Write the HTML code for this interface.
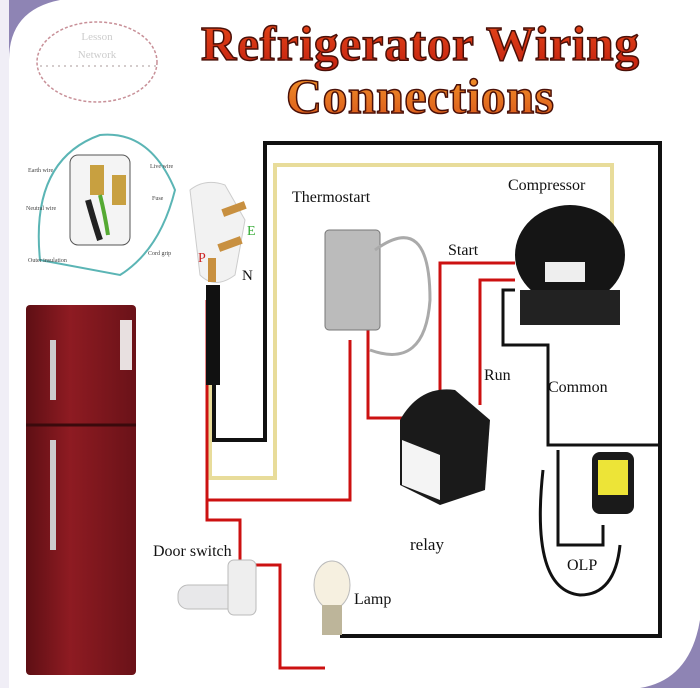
<!DOCTYPE html>
<html><head><style>
body{margin:0;width:700px;height:688px;overflow:hidden;background:#fff;font-family:"Liberation Serif",serif}
</style></head><body>
<svg width="700" height="688" viewBox="0 0 700 688" xmlns="http://www.w3.org/2000/svg">
<defs>
<linearGradient id="tg" x1="0" y1="0" x2="0" y2="1"><stop offset="0" stop-color="#e84a1a"/><stop offset="1" stop-color="#c3200f"/></linearGradient>
<linearGradient id="tg2" x1="0" y1="0" x2="0" y2="1"><stop offset="0" stop-color="#f59a2a"/><stop offset="1" stop-color="#d9541a"/></linearGradient>
<linearGradient id="fr" x1="0" y1="0" x2="1" y2="0"><stop offset="0" stop-color="#5e0f14"/><stop offset="0.4" stop-color="#8e1b22"/><stop offset="1" stop-color="#6a1218"/></linearGradient>
</defs>
<rect width="700" height="688" fill="#fff"/>
<path d="M0 0 H60 Q9 10 9 60 V0 Z" fill="#8e84b4"/>
<rect x="0" y="0" width="9" height="688" fill="#f0eef6"/>
<path d="M700 688 H640 Q690 680 700 620 Z" fill="#8e84b4"/>
<!-- logo -->
<ellipse cx="97" cy="62" rx="60" ry="40" fill="none" stroke="#c89098" stroke-width="1.5" stroke-dasharray="3 2"/>
<text x="97" y="40" font-size="11" fill="#ccc" text-anchor="middle">Lesson</text>
<text x="97" y="58" font-size="11" fill="#ccc" text-anchor="middle">Network</text>
<line x1="40" y1="66" x2="160" y2="66" stroke="#a99" stroke-dasharray="2 4"/>
<!-- title -->
<text x="420" y="60" font-size="49" font-weight="bold" fill="url(#tg)" stroke="#4a1008" stroke-width="1.5" text-anchor="middle" textLength="438">Refrigerator Wiring</text>
<text x="420" y="113" font-size="50" font-weight="bold" fill="url(#tg2)" stroke="#4a1008" stroke-width="1.5" text-anchor="middle" textLength="268">Connections</text>
<!-- plug inset -->
<path d="M40 260 Q30 160 100 135 Q150 130 175 190 Q160 250 120 275 Z" fill="#fff" stroke="#5bb5b5" stroke-width="2"/>
<rect x="70" y="155" width="60" height="90" rx="8" fill="#f4f4f4" stroke="#555"/>
<rect x="90" y="165" width="14" height="30" fill="#c8a040"/><rect x="112" y="175" width="14" height="30" fill="#c8a040"/>
<path d="M88 200 Q95 225 100 240" stroke="#222" stroke-width="6" fill="none"/>
<path d="M100 195 Q105 215 108 235" stroke="#5a3" stroke-width="4" fill="none"/>
<text x="28" y="172" font-size="6" fill="#444">Earth wire</text><text x="150" y="168" font-size="6" fill="#444">Live wire</text>
<text x="26" y="210" font-size="6" fill="#444">Neutral wire</text><text x="152" y="200" font-size="6" fill="#444">Fuse</text>
<text x="28" y="262" font-size="6" fill="#444">Outer insulation</text><text x="148" y="255" font-size="6" fill="#444">Cord grip</text>
<!-- wires -->
<polyline points="214,290 214,440 265,440 265,143 660,143 660,636 340,636" fill="none" stroke="#111" stroke-width="4"/>
<polyline points="210,290 210,478 275,478 275,165 612,165 612,262" fill="none" stroke="#e8dc9a" stroke-width="4"/>
<polyline points="207,300 207,500 350,500 350,340" fill="none" stroke="#c11" stroke-width="3"/>
<polyline points="207,500 207,520 240,520 240,560" fill="none" stroke="#c11" stroke-width="3"/>
<polyline points="368,330 368,418 410,418" fill="none" stroke="#c11" stroke-width="3"/>
<polyline points="440,400 440,263 515,263" fill="none" stroke="#c11" stroke-width="3"/>
<polyline points="480,405 480,280 515,280" fill="none" stroke="#c11" stroke-width="3"/>
<polyline points="250,565 280,565 280,668 325,668" fill="none" stroke="#c11" stroke-width="3"/>
<polyline points="515,290 503,290 503,345 548,345 548,445 660,445" fill="none" stroke="#111" stroke-width="3"/>
<polyline points="558,450 558,545 603,545 603,525" fill="none" stroke="#111" stroke-width="3"/>
<path d="M543 470 Q530 590 580 595 Q615 595 620 545" fill="none" stroke="#111" stroke-width="3"/>
<!-- plug -->
<path d="M190 190 Q205 178 225 185 L245 220 L235 275 Q215 290 200 275 Z" fill="#f2f2f2" stroke="#ccc"/>
<rect x="222" y="205" width="24" height="8" fill="#c89040" transform="rotate(-20 234 209)"/>
<rect x="218" y="240" width="24" height="8" fill="#c89040" transform="rotate(-20 230 244)"/>
<rect x="208" y="258" width="8" height="24" fill="#c89040"/>
<text x="198" y="262" font-size="14" fill="#c22">P</text>
<text x="247" y="235" font-size="14" fill="#3a3">E</text>
<text x="242" y="280" font-size="15" fill="#111">N</text>
<rect x="206" y="285" width="14" height="100" fill="#111"/>
<!-- thermostat -->
<rect x="325" y="230" width="55" height="100" rx="4" fill="#bbb" stroke="#777"/>
<path d="M375 250 Q430 210 430 300 Q425 370 370 350" fill="none" stroke="#aaa" stroke-width="3"/>
<text x="292" y="202" font-size="16" fill="#111">Thermostart</text>
<!-- compressor -->
<ellipse cx="570" cy="255" rx="55" ry="50" fill="#151515"/>
<rect x="520" y="290" width="100" height="35" fill="#222"/>
<rect x="545" y="262" width="40" height="20" fill="#eee"/>
<text x="508" y="190" font-size="16" fill="#111">Compressor</text>
<text x="448" y="255" font-size="16" fill="#111">Start</text>
<text x="484" y="380" font-size="16" fill="#111">Run</text>
<text x="548" y="392" font-size="16" fill="#111">Common</text>
<!-- relay -->
<path d="M400 420 Q420 385 455 390 L490 420 L485 490 L440 505 L400 485 Z" fill="#1a1a1a"/>
<path d="M402 440 L440 455 L440 500 L402 485 Z" fill="#f4f4f4"/>
<text x="410" y="550" font-size="17" fill="#111">relay</text>
<!-- OLP -->
<rect x="592" y="452" width="42" height="62" rx="8" fill="#1a1a1a"/>
<rect x="598" y="460" width="30" height="35" fill="#ede437"/>
<text x="567" y="570" font-size="16" fill="#111">OLP</text>
<!-- door switch -->
<rect x="178" y="585" width="60" height="24" rx="10" fill="#e8e8ea" stroke="#bbb"/>
<rect x="228" y="560" width="28" height="55" rx="6" fill="#eee" stroke="#bbb"/>
<text x="153" y="556" font-size="16" fill="#111">Door switch</text>
<!-- lamp -->
<ellipse cx="332" cy="585" rx="18" ry="24" fill="#f6f0e0" stroke="#bbb"/>
<rect x="322" y="605" width="20" height="30" fill="#bdb59a"/>
<text x="354" y="604" font-size="16" fill="#111">Lamp</text>
<!-- fridge -->
<rect x="26" y="305" width="110" height="370" rx="4" fill="url(#fr)"/>
<line x1="26" y1="425" x2="136" y2="425" stroke="#3a0a0c" stroke-width="3"/>
<rect x="50" y="340" width="6" height="60" fill="#ccc"/>
<rect x="50" y="440" width="6" height="110" fill="#ccc"/>
<rect x="120" y="320" width="12" height="50" fill="#e8e0e0"/>
</svg>
</body></html>
